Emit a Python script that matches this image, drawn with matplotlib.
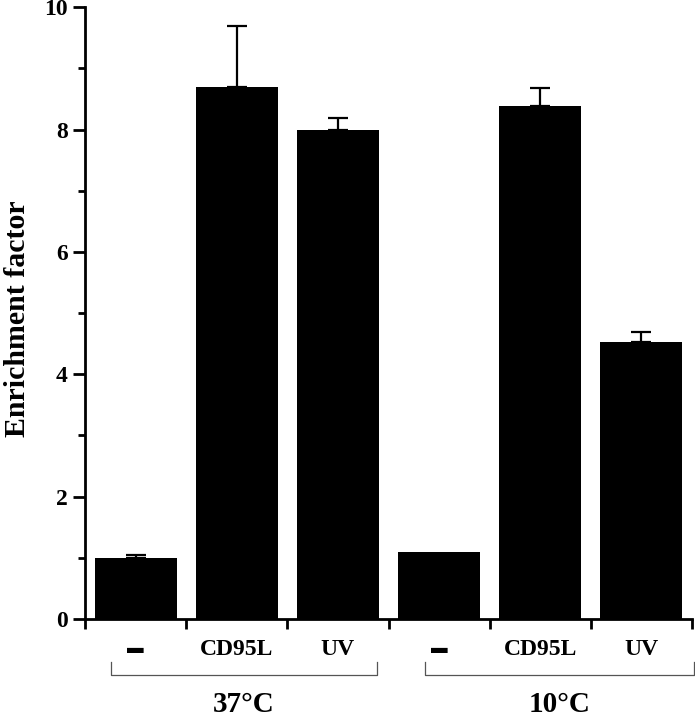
import matplotlib
matplotlib.use("Agg")
import matplotlib.pyplot as plt
import numpy as np

# ---- data ------------------------------------------------------------------
conditions = ["▬", "CD95L", "UV", "▬", "CD95L", "UV"]
enrichment = [1.0, 8.7, 8.0, 1.1, 8.38, 4.53]
err_up     = [0.05, 1.0, 0.19, 0.0, 0.3, 0.16]
groups     = ["37°C", "10°C"]

plt.rcParams["font.family"] = ["Liberation Serif", "DejaVu Sans"]
plt.rcParams["font.weight"] = "bold"

fig = plt.figure(figsize=(6.95, 7.19), dpi=100)
ax = fig.add_axes([0.1223, 0.139, 0.8734, 0.851])

x = np.arange(len(enrichment))
ax.bar(x, enrichment, width=0.81, color="black", zorder=2)
has_err = [i for i, e in enumerate(err_up) if e > 0]
ax.errorbar(x[has_err], [enrichment[i] for i in has_err],
            yerr=[np.zeros(len(has_err)), [err_up[i] for i in has_err]],
            fmt="none", ecolor="black", elinewidth=1.6, capsize=7,
            capthick=1.6, zorder=1)

ax.set_xlim(-0.5, 5.5)
ax.set_ylim(0, 10)
ax.set_yticks([0, 2, 4, 6, 8, 10])
ax.set_yticks([1, 3, 5, 7, 9], minor=True)
ax.set_xticks(np.arange(-0.5, 6.0, 1.0))
ax.set_xticklabels([])
for xi, lab in zip(x, conditions):
    fs = 12 if lab == "▬" else 17
    ax.text(xi, -0.049, lab, transform=ax.get_xaxis_transform(), ha="center",
            va="center", fontsize=fs, fontweight="bold")

for sp in ["top", "right"]:
    ax.spines[sp].set_visible(False)
for sp in ["left", "bottom"]:
    ax.spines[sp].set_linewidth(2)
ax.tick_params(axis="y", which="major", length=9, width=2, labelsize=17)
ax.tick_params(axis="y", which="minor", length=5, width=2)
ax.tick_params(axis="x", which="major", length=7, width=2)
for t in ax.get_yticklabels():
    t.set_fontweight("bold")

ax.set_ylabel("Enrichment factor", fontsize=21.5, fontweight="bold", labelpad=10)
ax.yaxis.set_label_coords(-0.089, 0.491)

# group brackets below the condition labels
tr = ax.get_xaxis_transform()
spans = [(-0.243, 2.385), (2.86, 5.52)]
for (x0, x1), g in zip(spans, groups):
    ax.plot([x0, x0, x1, x1], [-0.0703, -0.0915, -0.0915, -0.0703], transform=tr,
            color="#555555", lw=0.9, clip_on=False)
    ax.text((x0 + x1) / 2, -0.139, g, transform=tr, ha="center", va="center",
            fontsize=21, fontweight="bold")

fig.savefig("out.png", dpi=100)
